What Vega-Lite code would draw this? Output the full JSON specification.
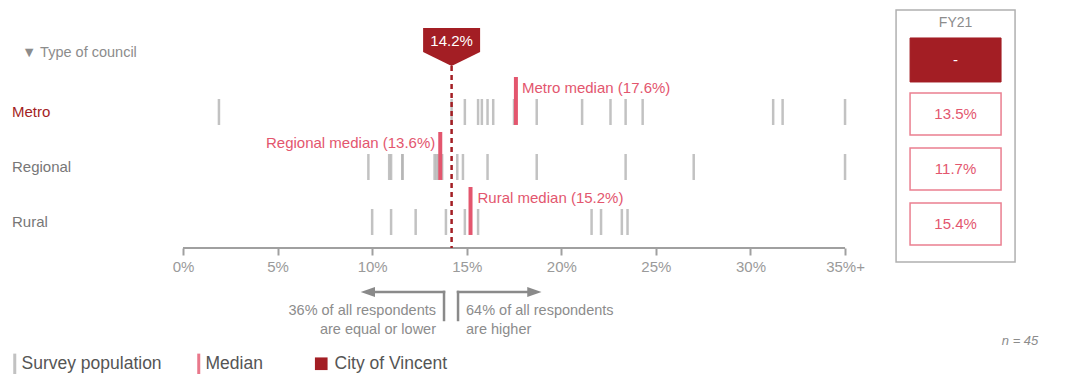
{
  "$schema": "https://vega.github.io/schema/vega-lite/v6.json",
  "width": 1069,
  "height": 248,
  "autosize": {"type": "none"},
  "padding": {"left": 0, "top": 0, "right": 0, "bottom": 126},
  "background": "white",
  "config": {
    "font": "Liberation Sans",
    "view": {"stroke": null},
    "axisY": {"disable": true}
  },
  "datasets": {
    "survey": [
      {"type": "Metro", "value": 0.019}, {"type": "Metro", "value": 0.142}, {"type": "Metro", "value": 0.149},
      {"type": "Metro", "value": 0.156}, {"type": "Metro", "value": 0.158}, {"type": "Metro", "value": 0.161},
      {"type": "Metro", "value": 0.164}, {"type": "Metro", "value": 0.175}, {"type": "Metro", "value": 0.187},
      {"type": "Metro", "value": 0.211}, {"type": "Metro", "value": 0.226}, {"type": "Metro", "value": 0.234},
      {"type": "Metro", "value": 0.243}, {"type": "Metro", "value": 0.312}, {"type": "Metro", "value": 0.317},
      {"type": "Metro", "value": 0.35},
      {"type": "Regional", "value": 0.098}, {"type": "Regional", "value": 0.109}, {"type": "Regional", "value": 0.110},
      {"type": "Regional", "value": 0.116}, {"type": "Regional", "value": 0.116}, {"type": "Regional", "value": 0.133},
      {"type": "Regional", "value": 0.134}, {"type": "Regional", "value": 0.135}, {"type": "Regional", "value": 0.137},
      {"type": "Regional", "value": 0.145}, {"type": "Regional", "value": 0.148}, {"type": "Regional", "value": 0.161},
      {"type": "Regional", "value": 0.187}, {"type": "Regional", "value": 0.234}, {"type": "Regional", "value": 0.270},
      {"type": "Regional", "value": 0.35},
      {"type": "Rural", "value": 0.100}, {"type": "Rural", "value": 0.110}, {"type": "Rural", "value": 0.123},
      {"type": "Rural", "value": 0.139}, {"type": "Rural", "value": 0.149}, {"type": "Rural", "value": 0.156},
      {"type": "Rural", "value": 0.216}, {"type": "Rural", "value": 0.221}, {"type": "Rural", "value": 0.232},
      {"type": "Rural", "value": 0.235}
    ],
    "councils": [
      {"type": "Metro", "median": 0.176, "medianLabel": "Metro median (17.6%)", "fy21": "13.5%"},
      {"type": "Regional", "median": 0.136, "medianLabel": "Regional median (13.6%)", "fy21": "11.7%"},
      {"type": "Rural", "median": 0.152, "medianLabel": "Rural median (15.2%)", "fy21": "15.4%"}
    ],
    "vincent": [
      {"council": "City of Vincent", "value": 0.142, "fy21": "-"}
    ]
  },
  "layer": [
    {
      "data": {"name": "survey"},
      "transform": [{"filter": "datum.type === 'Metro'"}],
      "mark": {"type": "tick", "orient": "vertical", "size": 26, "thickness": 2.5, "opacity": 0.8},
      "encoding": {
        "x": {
          "field": "value", "type": "quantitative",
          "scale": {"domain": [-0.09675, 0.4684], "nice": false, "zero": false},
          "axis": {
            "values": [0, 0.05, 0.1, 0.15, 0.2, 0.25, 0.3, 0.35],
            "format": ".0%",
            "labelExpr": "datum.value > 0.34 ? '35%+' : datum.label",
            "domain": false, "grid": false, "title": null,
            "tickColor": "#a0a0a0", "tickWidth": 2, "tickSize": 7,
            "labelColor": "#9a9a9a", "labelFontSize": 15, "labelPadding": 4
          }
        },
        "y": {"datum": 1, "type": "quantitative", "scale": {"domain": [-1.036, 3.473], "reverse": true, "nice": false, "zero": false}},
        "color": {
          "datum": "Survey population", "type": "nominal",
          "scale": {"domain": ["Survey population", "Median"], "range": ["#b3b3b3", "#e3566e"]},
          "legend": {
            "orient": "none", "legendX": 6, "legendY": 355, "direction": "horizontal", "title": null,
            "symbolType": "M-0.3,-2.1H0.3V2.1H-0.3Z",
            "symbolSize": 100, "symbolStrokeWidth": 0, "symbolOpacity": 1,
            "labelFontSize": 17.5, "labelColor": "#555555", "labelOffset": -2,
            "columnPadding": 28, "padding": 0
          }
        }
      }
    },
    {
      "data": {"name": "survey"},
      "transform": [{"filter": "datum.type === 'Regional'"}],
      "mark": {"type": "tick", "orient": "vertical", "size": 26, "thickness": 2.5, "opacity": 0.8},
      "encoding": {
        "x": {"field": "value", "type": "quantitative"},
        "y": {"datum": 2, "type": "quantitative"},
        "color": {"datum": "Survey population", "type": "nominal"}
      }
    },
    {
      "data": {"name": "survey"},
      "transform": [{"filter": "datum.type === 'Rural'"}],
      "mark": {"type": "tick", "orient": "vertical", "size": 26, "thickness": 2.5, "opacity": 0.8},
      "encoding": {
        "x": {"field": "value", "type": "quantitative"},
        "y": {"datum": 3, "type": "quantitative"},
        "color": {"datum": "Survey population", "type": "nominal"}
      }
    },
    {
      "data": {"name": "vincent"},
      "mark": {"type": "rule", "color": "#a0a0a0", "strokeWidth": 2},
      "encoding": {
        "x": {"datum": 0, "type": "quantitative"},
        "x2": {"datum": 0.35},
        "y": {"datum": 3.473, "type": "quantitative"}
      }
    },
    {
      "data": {"name": "councils"},
      "transform": [{"filter": "datum.type === 'Metro'"}],
      "mark": {"type": "rule", "strokeWidth": 4},
      "encoding": {
        "x": {"field": "median", "type": "quantitative"},
        "y": {"datum": 0.364, "type": "quantitative"},
        "y2": {"datum": 1.236},
        "color": {"datum": "Median", "type": "nominal"}
      }
    },
    {
      "data": {"name": "councils"},
      "transform": [{"filter": "datum.type === 'Regional'"}],
      "mark": {"type": "rule", "strokeWidth": 4},
      "encoding": {
        "x": {"field": "median", "type": "quantitative"},
        "y": {"datum": 1.364, "type": "quantitative"},
        "y2": {"datum": 2.236},
        "color": {"datum": "Median", "type": "nominal"}
      }
    },
    {
      "data": {"name": "councils"},
      "transform": [{"filter": "datum.type === 'Rural'"}],
      "mark": {"type": "rule", "strokeWidth": 4},
      "encoding": {
        "x": {"field": "median", "type": "quantitative"},
        "y": {"datum": 2.364, "type": "quantitative"},
        "y2": {"datum": 3.236},
        "color": {"datum": "Median", "type": "nominal"}
      }
    },
    {
      "data": {"name": "councils"},
      "transform": [{"filter": "datum.type === 'Metro'"}],
      "mark": {"type": "text", "align": "left", "baseline": "middle", "dx": 6, "fontSize": 15, "color": "#e3566e"},
      "encoding": {
        "x": {"field": "median", "type": "quantitative"},
        "y": {"datum": 0.564, "type": "quantitative"},
        "text": {"field": "medianLabel"}
      }
    },
    {
      "data": {"name": "councils"},
      "transform": [{"filter": "datum.type === 'Regional'"}],
      "mark": {"type": "text", "align": "right", "baseline": "middle", "dx": -5, "fontSize": 15, "color": "#e3566e"},
      "encoding": {
        "x": {"field": "median", "type": "quantitative"},
        "y": {"datum": 1.564, "type": "quantitative"},
        "text": {"field": "medianLabel"}
      }
    },
    {
      "data": {"name": "councils"},
      "transform": [{"filter": "datum.type === 'Rural'"}],
      "mark": {"type": "text", "align": "left", "baseline": "middle", "dx": 7, "fontSize": 15, "color": "#e3566e"},
      "encoding": {
        "x": {"field": "median", "type": "quantitative"},
        "y": {"datum": 2.564, "type": "quantitative"},
        "text": {"field": "medianLabel"}
      }
    },
    {
      "data": {"name": "councils"},
      "transform": [{"filter": "datum.type === 'Metro'"}],
      "mark": {"type": "text", "align": "left", "baseline": "middle", "fontSize": 15, "color": "#a31e24"},
      "encoding": {
        "x": {"datum": -0.09041, "type": "quantitative"},
        "y": {"datum": 1, "type": "quantitative"},
        "text": {"field": "type"}
      }
    },
    {
      "data": {"name": "councils"},
      "transform": [{"filter": "datum.type === 'Regional'"}],
      "mark": {"type": "text", "align": "left", "baseline": "middle", "fontSize": 15, "color": "#777777"},
      "encoding": {
        "x": {"datum": -0.09041, "type": "quantitative"},
        "y": {"datum": 2, "type": "quantitative"},
        "text": {"field": "type"}
      }
    },
    {
      "data": {"name": "councils"},
      "transform": [{"filter": "datum.type === 'Rural'"}],
      "mark": {"type": "text", "align": "left", "baseline": "middle", "fontSize": 15, "color": "#777777"},
      "encoding": {
        "x": {"datum": -0.09041, "type": "quantitative"},
        "y": {"datum": 3, "type": "quantitative"},
        "text": {"field": "type"}
      }
    },
    {
      "data": {"name": "vincent"},
      "mark": {"type": "rect", "fill": "white", "stroke": "#b0b0b0", "strokeWidth": 1.5},
      "encoding": {
        "x": {"datum": 0.37697, "type": "quantitative"},
        "x2": {"datum": 0.43988},
        "y": {"datum": -0.85455, "type": "quantitative"},
        "y2": {"datum": 3.72727}
      }
    },
    {
      "data": {"name": "vincent"},
      "mark": {"type": "text", "align": "center", "baseline": "middle", "fontSize": 14, "color": "#8c8c8c", "text": "FY21"},
      "encoding": {
        "x": {"datum": 0.40843, "type": "quantitative"},
        "y": {"datum": -0.61818, "type": "quantitative"}
      }
    },
    {
      "data": {"name": "vincent"},
      "mark": {"type": "rect", "fill": "#a31e24", "stroke": "#a31e24", "strokeWidth": 1},
      "encoding": {
        "x": {"datum": 0.38437, "type": "quantitative"},
        "x2": {"datum": 0.43248},
        "y": {"datum": -0.34545, "type": "quantitative"},
        "y2": {"datum": 0.45455}
      }
    },
    {
      "data": {"name": "vincent"},
      "mark": {"type": "text", "align": "center", "baseline": "middle", "fontSize": 15, "color": "white"},
      "encoding": {
        "x": {"datum": 0.40843, "type": "quantitative"},
        "y": {"datum": 0.05455, "type": "quantitative"},
        "text": {"field": "fy21"}
      }
    },
    {
      "data": {"name": "councils"},
      "transform": [{"filter": "datum.type === 'Metro'"}],
      "mark": {"type": "rect", "fill": "white", "stroke": "#ea7f90", "strokeWidth": 1.5},
      "encoding": {
        "x": {"datum": 0.38437, "type": "quantitative"},
        "x2": {"datum": 0.43248},
        "y": {"datum": 0.65455, "type": "quantitative"},
        "y2": {"datum": 1.41818}
      }
    },
    {
      "data": {"name": "councils"},
      "transform": [{"filter": "datum.type === 'Regional'"}],
      "mark": {"type": "rect", "fill": "white", "stroke": "#ea7f90", "strokeWidth": 1.5},
      "encoding": {
        "x": {"datum": 0.38437, "type": "quantitative"},
        "x2": {"datum": 0.43248},
        "y": {"datum": 1.65455, "type": "quantitative"},
        "y2": {"datum": 2.41818}
      }
    },
    {
      "data": {"name": "councils"},
      "transform": [{"filter": "datum.type === 'Rural'"}],
      "mark": {"type": "rect", "fill": "white", "stroke": "#ea7f90", "strokeWidth": 1.5},
      "encoding": {
        "x": {"datum": 0.38437, "type": "quantitative"},
        "x2": {"datum": 0.43248},
        "y": {"datum": 2.65455, "type": "quantitative"},
        "y2": {"datum": 3.41818}
      }
    },
    {
      "data": {"name": "councils"},
      "transform": [{"filter": "datum.type === 'Metro'"}],
      "mark": {"type": "text", "align": "center", "baseline": "middle", "fontSize": 15, "color": "#e3566e"},
      "encoding": {
        "x": {"datum": 0.40843, "type": "quantitative"},
        "y": {"datum": 1.03636, "type": "quantitative"},
        "text": {"field": "fy21"}
      }
    },
    {
      "data": {"name": "councils"},
      "transform": [{"filter": "datum.type === 'Regional'"}],
      "mark": {"type": "text", "align": "center", "baseline": "middle", "fontSize": 15, "color": "#e3566e"},
      "encoding": {
        "x": {"datum": 0.40843, "type": "quantitative"},
        "y": {"datum": 2.03636, "type": "quantitative"},
        "text": {"field": "fy21"}
      }
    },
    {
      "data": {"name": "councils"},
      "transform": [{"filter": "datum.type === 'Rural'"}],
      "mark": {"type": "text", "align": "center", "baseline": "middle", "fontSize": 15, "color": "#e3566e"},
      "encoding": {
        "x": {"datum": 0.40843, "type": "quantitative"},
        "y": {"datum": 3.03636, "type": "quantitative"},
        "text": {"field": "fy21"}
      }
    },
    {
      "data": {"name": "vincent"},
      "mark": {"type": "rule", "color": "#a31e24", "strokeWidth": 2.5, "strokeDash": [5, 4]},
      "encoding": {
        "x": {"field": "value", "type": "quantitative"},
        "y": {"datum": 0.16364, "type": "quantitative"},
        "y2": {"datum": 3.473}
      }
    },
    {
      "data": {"name": "vincent"},
      "mark": {"type": "point", "filled": true, "opacity": 1, "size": 3249, "strokeWidth": 0,
               "shape": "M-1,-0.667L1,-0.667L1,0.175L0,0.667L-1,0.175Z"},
      "encoding": {
        "x": {"field": "value", "type": "quantitative"},
        "y": {"datum": -0.18182, "type": "quantitative"},
        "fill": {
          "datum": "City of Vincent", "type": "nominal",
          "scale": {"domain": ["City of Vincent"], "range": ["#a31e24"]},
          "legend": {
            "orient": "none", "legendX": 312.5, "legendY": 355, "title": null,
            "symbolType": "square", "symbolSize": 160, "symbolStrokeWidth": 0, "symbolOpacity": 1,
            "labelFontSize": 17.5, "labelColor": "#555555", "labelOffset": 4.5, "padding": 0
          }
        }
      }
    },
    {
      "data": {"name": "vincent"},
      "mark": {"type": "text", "align": "center", "baseline": "middle", "fontSize": 15, "color": "white"},
      "encoding": {
        "x": {"field": "value", "type": "quantitative"},
        "y": {"datum": -0.28182, "type": "quantitative"},
        "text": {"field": "value", "type": "quantitative", "format": ".1%"}
      }
    },
    {
      "data": {"name": "vincent"},
      "mark": {"type": "text", "align": "left", "baseline": "middle", "fontSize": 14.5, "color": "#8c8c8c", "text": "▼ Type of council"},
      "encoding": {
        "x": {"datum": -0.08512, "type": "quantitative"},
        "y": {"datum": -0.07273, "type": "quantitative"}
      }
    },
    {
      "data": {"name": "vincent"},
      "mark": {"type": "text", "align": "center", "baseline": "middle", "fontSize": 13, "fontStyle": "italic", "color": "#8c8c8c", "text": "n = 45"},
      "encoding": {
        "x": {"datum": 0.44253, "type": "quantitative"},
        "y": {"datum": 5.16364, "type": "quantitative"}
      }
    },
    {
      "data": {"name": "vincent"},
      "mark": {"type": "rule", "color": "#8a8a8a", "strokeWidth": 2.5, "strokeCap": "square"},
      "encoding": {
        "x": {"datum": 0.10151, "type": "quantitative"},
        "x2": {"datum": 0.13799},
        "y": {"datum": 4.27273, "type": "quantitative"}
      }
    },
    {
      "data": {"name": "vincent"},
      "mark": {"type": "rule", "color": "#8a8a8a", "strokeWidth": 2.5, "strokeCap": "square"},
      "encoding": {
        "x": {"datum": 0.13799, "type": "quantitative"},
        "y": {"datum": 4.27273, "type": "quantitative"},
        "y2": {"datum": 4.78182}
      }
    },
    {
      "data": {"name": "vincent"},
      "mark": {"type": "rule", "color": "#8a8a8a", "strokeWidth": 2.5, "strokeCap": "square"},
      "encoding": {
        "x": {"datum": 0.1454, "type": "quantitative"},
        "y": {"datum": 4.27273, "type": "quantitative"},
        "y2": {"datum": 4.78182}
      }
    },
    {
      "data": {"name": "vincent"},
      "mark": {"type": "rule", "color": "#8a8a8a", "strokeWidth": 2.5, "strokeCap": "square"},
      "encoding": {
        "x": {"datum": 0.1454, "type": "quantitative"},
        "x2": {"datum": 0.18188},
        "y": {"datum": 4.27273, "type": "quantitative"}
      }
    },
    {
      "data": {"name": "vincent"},
      "mark": {"type": "point", "filled": true, "opacity": 1, "size": 204, "color": "#8a8a8a", "strokeWidth": 0,
               "shape": "M-1,0L1,-0.7L1,0.7Z"},
      "encoding": {
        "x": {"datum": 0.09773, "type": "quantitative"},
        "y": {"datum": 4.27273, "type": "quantitative"}
      }
    },
    {
      "data": {"name": "vincent"},
      "mark": {"type": "point", "filled": true, "opacity": 1, "size": 204, "color": "#8a8a8a", "strokeWidth": 0,
               "shape": "M1,0L-1,-0.7L-1,0.7Z"},
      "encoding": {
        "x": {"datum": 0.18576, "type": "quantitative"},
        "y": {"datum": 4.27273, "type": "quantitative"}
      }
    },
    {
      "data": {"name": "vincent"},
      "mark": {"type": "text", "align": "right", "baseline": "middle", "fontSize": 14.5, "color": "#8c8c8c", "text": "36% of all respondents"},
      "encoding": {
        "x": {"datum": 0.13376, "type": "quantitative"},
        "y": {"datum": 4.62727, "type": "quantitative"}
      }
    },
    {
      "data": {"name": "vincent"},
      "mark": {"type": "text", "align": "right", "baseline": "middle", "fontSize": 14.5, "color": "#8c8c8c", "text": "are equal or lower"},
      "encoding": {
        "x": {"datum": 0.13376, "type": "quantitative"},
        "y": {"datum": 4.96364, "type": "quantitative"}
      }
    },
    {
      "data": {"name": "vincent"},
      "mark": {"type": "text", "align": "left", "baseline": "middle", "fontSize": 14.5, "color": "#8c8c8c", "text": "64% of all respondents"},
      "encoding": {
        "x": {"datum": 0.14963, "type": "quantitative"},
        "y": {"datum": 4.62727, "type": "quantitative"}
      }
    },
    {
      "data": {"name": "vincent"},
      "mark": {"type": "text", "align": "left", "baseline": "middle", "fontSize": 14.5, "color": "#8c8c8c", "text": "are higher"},
      "encoding": {
        "x": {"datum": 0.14963, "type": "quantitative"},
        "y": {"datum": 4.96364, "type": "quantitative"}
      }
    }
  ]
}
